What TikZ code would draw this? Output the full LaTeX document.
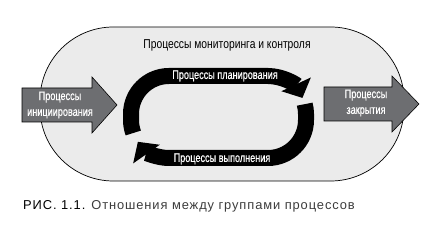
\documentclass[tikz,border=0pt]{standalone}
\usepackage{fontspec}
\setmainfont{Liberation Sans}
\newfontfamily\condfont[FakeStretch=0.8]{Liberation Sans}
\newfontfamily\condbold[FakeStretch=0.74,FakeBold=0.6]{Liberation Sans}
\newfontfamily\captfont[LetterSpace=7]{Liberation Sans}
\usetikzlibrary{arrows.meta}
\definecolor{ovalgray}{HTML}{EBEBEB}
\definecolor{arrowgray}{HTML}{6D6E71}
\definecolor{captgray}{HTML}{3C3C3C}

\begin{document}
\begin{tikzpicture}[x=0.03cm,y=0.03cm,
   oval/.style={draw=black,line width=0.6pt,fill=ovalgray,rounded corners=2.2cm},
   bigarrow/.style={draw=black,line width=0.5pt,fill=arrowgray},
   cyc/.style={line width=0.48cm,black,-{Triangle[length=0.45cm,width=0.95cm]}},
   lbl/.style={font=\condfont\fontsize{11}{12}\selectfont,align=center,inner sep=0pt},
   wlbl/.style={lbl,font=\condbold\fontsize{10.5}{13.5}\selectfont,text=white}]
\useasboundingbox (0,0) rectangle (441,229);
% monitoring and control
\draw[oval] (40,48) rectangle (404,202);
\node[lbl] (monitor) at (227,184) {Процессы мониторинга и контроля};
% initiating and closing
\draw[bigarrow] (22,107) -- (92,107) -- (92,96) -- (117,124) -- (92,152) -- (92,141) -- (22,141) -- cycle;
\draw[bigarrow] (324,108) -- (392,108) -- (392,97) -- (419,125) -- (392,153) -- (392,142) -- (324,142) -- cycle;
\node[wlbl] (initiate) at (60,124) {Процессы\\инициирования};
\node[wlbl] (closing) at (366,126) {Процессы\\закрытия};
% planning / executing cycle
\draw[cyc] (169,109) ++(200:38) arc[start angle=200,end angle=180,radius=38]
   -- (131,115) arc[start angle=180,end angle=90,radius=38]
   -- (268,153) arc[start angle=90,end angle=25,radius=38];
\draw[cyc] (268,115) ++(15:38) arc[start angle=15,end angle=0,radius=38]
   -- (306,109) arc[start angle=0,end angle=-90,radius=38]
   -- (169,71) arc[start angle=270,end angle=215,radius=38];
\node[wlbl] (planning) at (225,153) {Процессы планирования};
\node[wlbl] (executing) at (222,70) {Процессы выполнения};
% caption
\node[anchor=west,inner sep=0pt,font=\captfont\fontsize{11}{13}\selectfont,text=captgray] (caption) at (23,23)
   {\textcolor{black}{РИС. 1.1.} Отношения между группами процессов};
\end{tikzpicture}
\end{document}
